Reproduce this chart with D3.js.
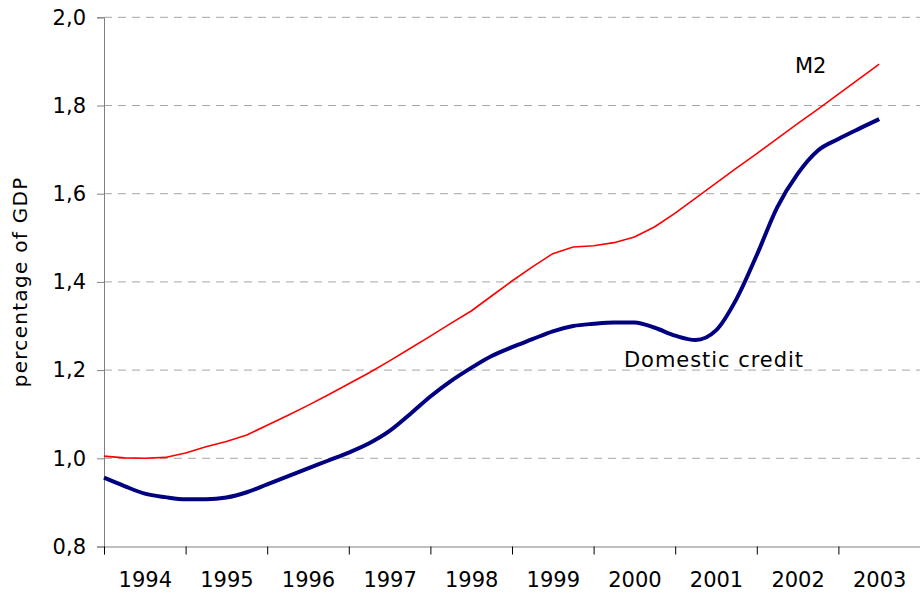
<!DOCTYPE html>
<html>
<head>
<meta charset="utf-8">
<script src="https://cdn.jsdelivr.net/npm/d3@7/dist/d3.min.js"></script>
<style>
  html, body { margin: 0; padding: 0; background: #fff; }
  svg { display: block; }
  text { font-family: "DejaVu Sans", Verdana, sans-serif; fill: #000; }
</style>
</head>
<body>
<svg id="chart" width="920" height="599"></svg>
<script>
// ---- Data (quarterly, ratio shown as "percentage of GDP") ----
const periods = [
  "1994Q1","1994Q2","1994Q3","1994Q4",
  "1995Q1","1995Q2","1995Q3","1995Q4",
  "1996Q1","1996Q2","1996Q3","1996Q4",
  "1997Q1","1997Q2","1997Q3","1997Q4",
  "1998Q1","1998Q2","1998Q3","1998Q4",
  "1999Q1","1999Q2","1999Q3","1999Q4",
  "2000Q1","2000Q2","2000Q3","2000Q4",
  "2001Q1","2001Q2","2001Q3","2001Q4",
  "2002Q1","2002Q2","2002Q3","2002Q4",
  "2003Q1","2003Q2","2003Q3"
];
const m2 = [
  1.005, 1.001, 1.000, 1.002,
  1.012, 1.026, 1.038, 1.053,
  1.075, 1.097, 1.120, 1.144,
  1.169, 1.194, 1.221, 1.249,
  1.277, 1.306, 1.334, 1.368,
  1.402, 1.434, 1.464, 1.479,
  1.482, 1.489, 1.502, 1.525,
  1.556, 1.590, 1.624, 1.658,
  1.691, 1.725, 1.759, 1.792,
  1.826, 1.860, 1.894
];
const domesticCredit = [
  0.956, 0.937, 0.920, 0.912,
  0.907, 0.907, 0.911, 0.923,
  0.941, 0.959, 0.977, 0.995,
  1.013, 1.034, 1.062, 1.100,
  1.140, 1.175, 1.205, 1.232,
  1.252, 1.270, 1.288, 1.300,
  1.305, 1.308, 1.308, 1.296,
  1.278, 1.268, 1.290, 1.361,
  1.461, 1.569, 1.645, 1.698,
  1.724, 1.747, 1.769
];
const yearLabels = ["1994","1995","1996","1997","1998","1999","2000","2001","2002","2003"];
const yTicks = [0.8, 1.0, 1.2, 1.4, 1.6, 1.8, 2.0];
const seriesLabels = { m2: "M2", credit: "Domestic credit" };
const yTitle = "percentage of GDP";

// ---- Layout ----
const svg = d3.select("#chart");
const pLeft = 104, pRight = 920, pTop = 17.3, pBottom = 546.5;

const toYear = p => +p.slice(0, 4) + (+p.slice(5) - 1) / 4;

const x = d3.scaleLinear().domain([1994, 2004]).range([pLeft, pRight]);
const y = d3.scaleLinear().domain([0.8, 2.0]).range([pBottom, pTop]);

// gridlines
svg.append("g")
  .selectAll("line")
  .data(yTicks.filter(v => v > 0.8))
  .join("line")
  .attr("x1", pLeft).attr("x2", pRight)
  .attr("y1", d => y(d)).attr("y2", d => y(d))
  .attr("stroke", "#a6a6a6")
  .attr("stroke-width", 1)
  .attr("stroke-dasharray", "8,6");

// y axis
const yAxis = svg.append("g")
  .attr("transform", `translate(${pLeft},0)`)
  .call(d3.axisLeft(y).tickValues(yTicks).tickSize(7).tickPadding(11)
    .tickFormat(d => d3.format(".1f")(d).replace(".", ",")));
yAxis.select(".domain").attr("stroke", "#808080");
yAxis.selectAll(".tick line").attr("stroke", "#808080");
yAxis.selectAll("text").style("font-size", "21px").attr("fill", "#000");

// x axis (tick marks at year boundaries)
const boundaries = yearLabels.map(v => +v).concat([+yearLabels[yearLabels.length - 1] + 1]);
const xAxis = svg.append("g")
  .attr("transform", `translate(0,${pBottom})`)
  .call(d3.axisBottom(x).tickValues(boundaries).tickSize(8).tickFormat(""));
xAxis.select(".domain").attr("stroke", "#808080");
xAxis.selectAll(".tick line").attr("stroke", "#000");

// x labels centred in each year
const xLab = svg.append("g")
  .attr("transform", `translate(0,${pBottom})`)
  .call(d3.axisBottom(x).tickValues(yearLabels.map(v => +v + 0.5)).tickSize(0).tickPadding(26)
    .tickFormat((d, i) => yearLabels[i]));
xLab.select(".domain").remove();
xLab.selectAll("text").style("font-size", "21px").attr("fill", "#000");

// y title
svg.append("text")
  .attr("transform", `translate(27,${(pTop + pBottom) / 2}) rotate(-90)`)
  .attr("text-anchor", "middle")
  .style("font-size", "20px")
  .style("letter-spacing", "1.3px")
  .text(yTitle);

// lines
const line = d3.line().x((d, i) => x(toYear(periods[i]))).y(d => y(d));

svg.append("path")
  .datum(m2)
  .attr("fill", "none")
  .attr("stroke", "#ff0000")
  .attr("stroke-width", 1.6)
  .attr("stroke-linejoin", "round")
  .attr("d", line);

svg.append("path")
  .datum(domesticCredit)
  .attr("fill", "none")
  .attr("stroke", "#000080")
  .attr("stroke-width", 4)
  .attr("stroke-linejoin", "round")
  .attr("d", line.curve(d3.curveMonotoneX));

// series labels
svg.append("text").attr("x", 795).attr("y", 73).style("font-size", "21px").text(seriesLabels.m2);
svg.append("text").attr("x", 624).attr("y", 366.5).style("font-size", "21px")
  .style("letter-spacing", "0.95px").text(seriesLabels.credit);
</script>
</body>
</html>
